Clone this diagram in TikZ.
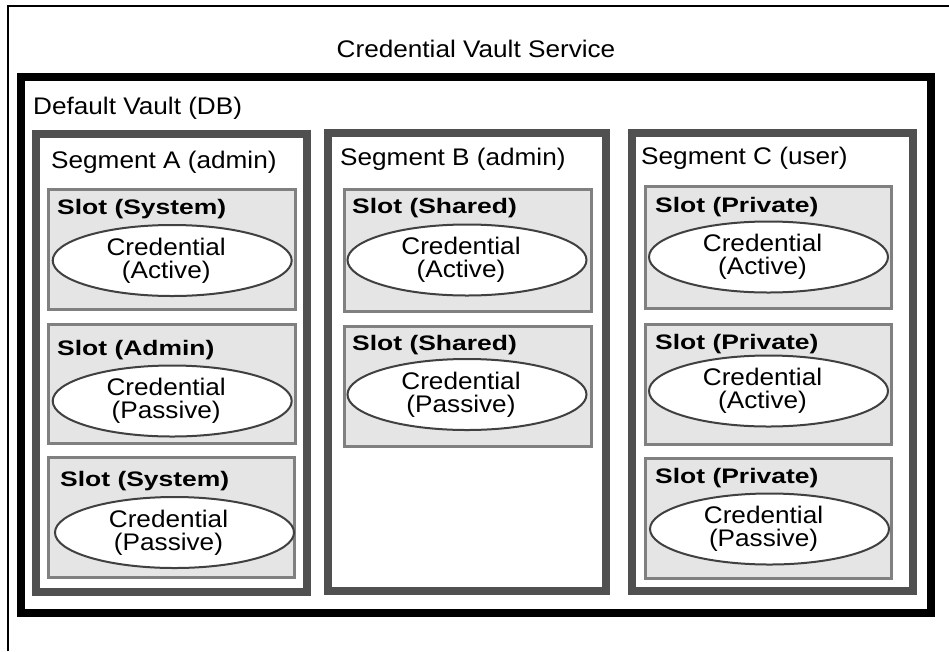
\documentclass[tikz,border=0pt]{standalone}
\usepackage{fontspec}
\setmainfont{Liberation Sans}
\newfontfamily\regf{Liberation Sans}[FakeStretch=1.09]
\newfontfamily\boldf{Liberation Sans Bold}[FakeStretch=1.26]
\usetikzlibrary{shapes.geometric}
\definecolor{seggray}{HTML}{505050}
\definecolor{slotfill}{HTML}{E5E5E5}
\definecolor{slotline}{HTML}{808080}
\definecolor{ellline}{HTML}{404040}
\begin{document}
\begin{tikzpicture}[x=1pt,y=-1pt,
 frame/.style={line width=1.6pt, draw=black},
 vaultbox/.style={line width=8pt, draw=black, fill=white},
 segbox/.style={line width=8pt, draw=seggray, fill=white},
 slotbox/.style={line width=3pt, draw=slotline, fill=slotfill},
 cred/.style={ellipse, draw=ellline, line width=2pt, fill=white, minimum width=239pt, minimum height=71pt, inner sep=0pt},
 credtxt/.style={align=center, inner sep=0pt, font=\regf\fontsize{24}{23}\selectfont},
 lbl/.style={anchor=base west, inner sep=0pt, font=\regf\fontsize{24}{28}\selectfont},
 slotlbl/.style={anchor=base west, inner sep=0pt, font=\boldf\fontsize{21}{25}\selectfont},
]
\useasboundingbox (0,0) rectangle (949,651);
\fill[white] (0,0) rectangle (949,651);
% outer service frame (open on right and bottom)
\draw[frame] (8.2,651) -- (8.2,6) -- (949,6);
\node[anchor=base, inner sep=0pt, font=\regf\fontsize{24}{28}\selectfont] (title) at (476,57) {Credential Vault Service};
% vault
\draw[vaultbox] (21,77) rectangle (931,613);
\node[lbl] (vault) at (33,114) {Default Vault (DB)};
% segments
\draw[segbox] (36,134) rectangle (307,592);
\draw[segbox] (328,133) rectangle (606,591);
\draw[segbox] (632,133) rectangle (913,591);
\node[lbl] (segA) at (51,168) {Segment A (admin)};
\node[lbl] (segB) at (340,165) {Segment B (admin)};
\node[lbl] (segC) at (641,164) {Segment C (user)};
% slots segment A
\draw[slotbox] (48.2,189.5) rectangle (295.2,309.5);
\draw[slotbox] (48.2,324.2) rectangle (295.2,443.5);
\draw[slotbox] (48.5,457.5) rectangle (294.5,577.5);
\node[slotlbl] (sA1) at (57,214) {Slot (System)};
\node[slotlbl] (sA2) at (57,355.7) {Slot (Admin)};
\node[slotlbl] (sA3) at (60,486) {Slot (System)};
\node[cred] (cA1) at (172.2,260.5) {};
\node[cred] (cA2) at (172.2,401) {};
\node[cred] (cA3) at (174.5,532.5) {};
\node[credtxt] (tA1) at ([xshift=-6pt]cA1.center) {Credential\\(Active)};
\node[credtxt] (tA2) at ([xshift=-6pt]cA2.center) {Credential\\(Passive)};
\node[credtxt] (tA3) at ([xshift=-6pt]cA3.center) {Credential\\(Passive)};
% slots segment B
\draw[slotbox] (344.5,189.5) rectangle (591.5,311.5);
\draw[slotbox] (344.5,326.5) rectangle (591.5,446.5);
\node[slotlbl] (sB1) at (352,213) {Slot (Shared)};
\node[slotlbl] (sB2) at (352,350) {Slot (Shared)};
\node[cred] (cB1) at (467,260) {};
\node[cred] (cB2) at (467,394.5) {};
\node[credtxt] (tB1) at ([xshift=-6pt]cB1.center) {Credential\\(Active)};
\node[credtxt] (tB2) at ([xshift=-6pt]cB2.center) {Credential\\(Passive)};
% slots segment C
\draw[slotbox] (645.5,186.5) rectangle (891.5,308.5);
\draw[slotbox] (645.5,324.5) rectangle (891.5,444.5);
\draw[slotbox] (645.5,458.5) rectangle (891.5,578.5);
\node[slotlbl] (sC1) at (655,212) {Slot (Private)};
\node[slotlbl] (sC2) at (655,349) {Slot (Private)};
\node[slotlbl] (sC3) at (655,483) {Slot (Private)};
\node[cred] (cC1) at (768.5,257) {};
\node[cred] (cC2) at (768.5,391) {};
\node[cred] (cC3) at (769.5,529) {};
\node[credtxt] (tC1) at ([xshift=-6pt]cC1.center) {Credential\\(Active)};
\node[credtxt] (tC2) at ([xshift=-6pt]cC2.center) {Credential\\(Active)};
\node[credtxt] (tC3) at ([xshift=-6pt]cC3.center) {Credential\\(Passive)};
\end{tikzpicture}
\end{document}
